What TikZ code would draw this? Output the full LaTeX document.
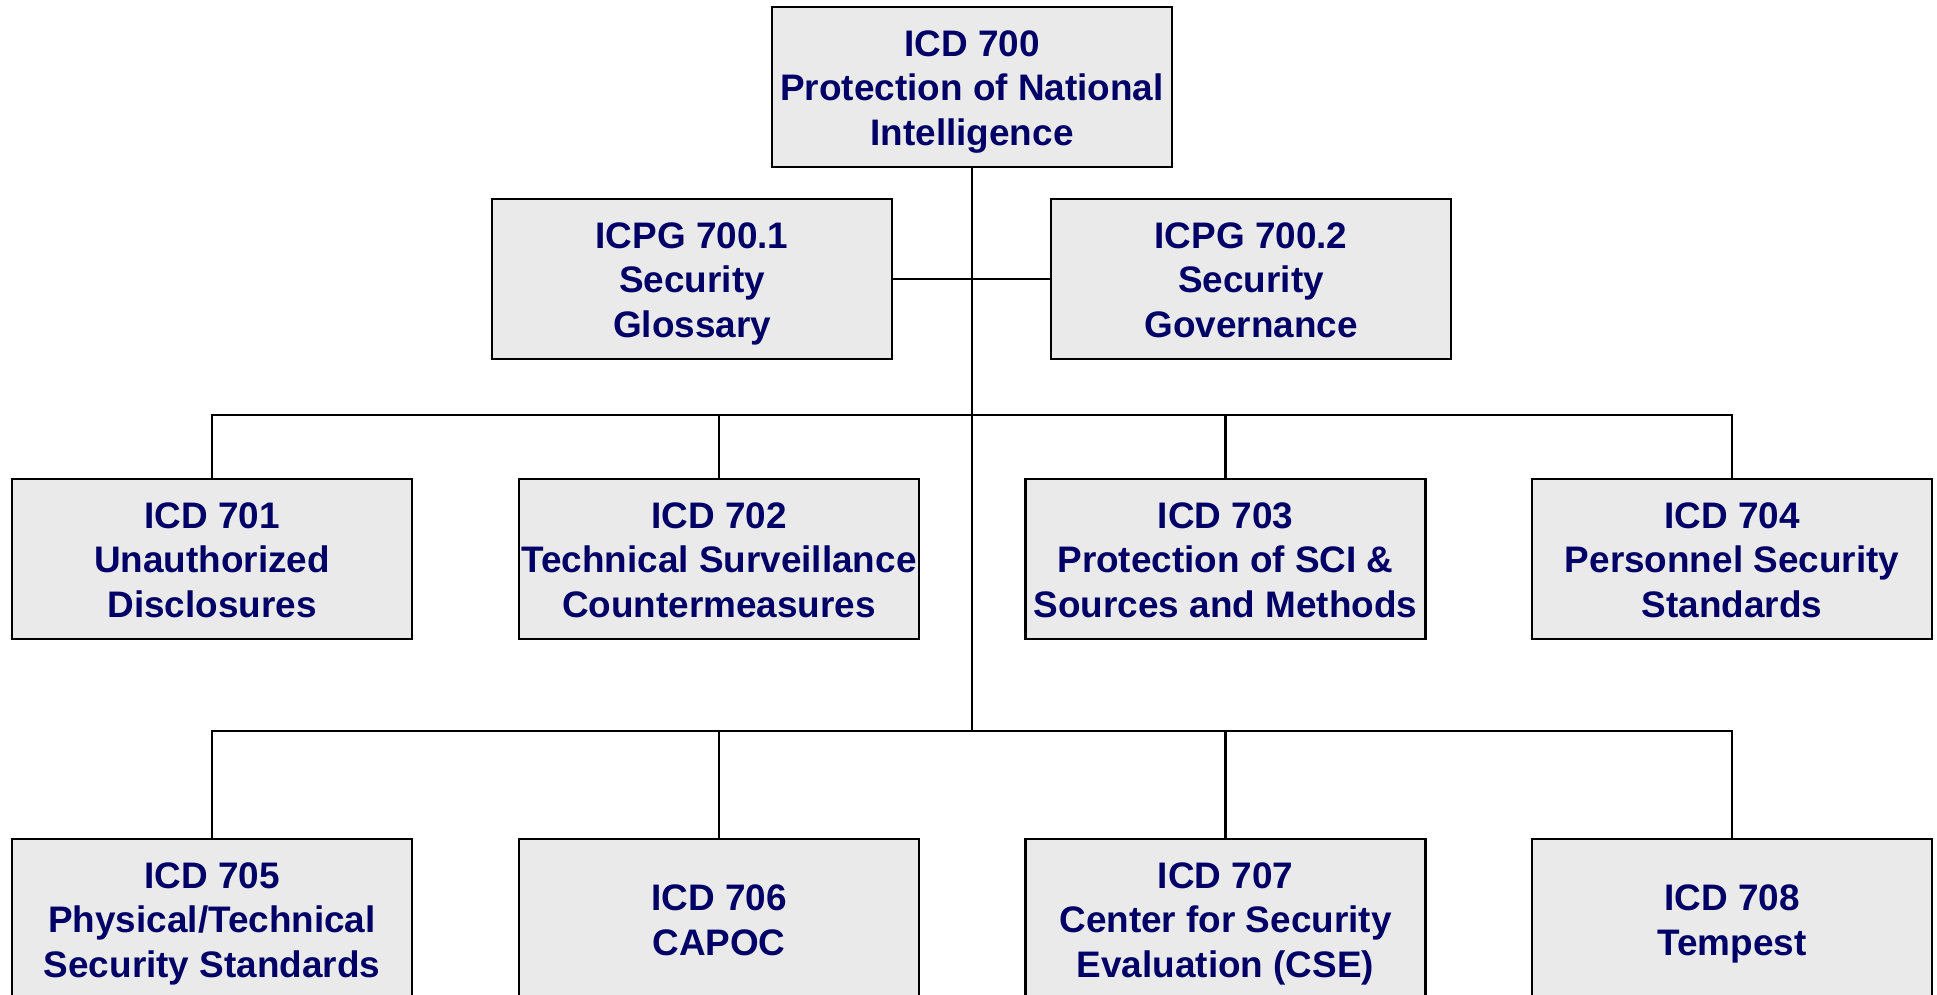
\documentclass[tikz,border=0pt]{standalone}
\usepackage{fontspec}
\setmainfont{Liberation Sans}
\definecolor{navytext}{RGB}{0,0,102}
\definecolor{boxfill}{RGB}{234,234,234}
\newcommand{\doclines}[1]{\raisebox{-5pt}[\height][\depth]{\begin{tabular}{@{}c@{}}#1\end{tabular}}}
\begin{document}
\begin{tikzpicture}[x=1pt,y=1pt,
  docbox/.style={draw=black, line width=2.6pt, fill=boxfill, rectangle,
    minimum width=400pt, minimum height=160pt, inner sep=0pt,
    text=navytext, font=\bfseries\fontsize{36.9}{44.5}\selectfont},
  link/.style={draw=black, line width=2.2pt}]
\useasboundingbox (0,0) rectangle (1937,-995);
\node[docbox] (top) at (972,-87) {\doclines{ICD 700\\Protection of National\\Intelligence}};
\node[docbox] (g1) at (692,-279) {\doclines{ICPG 700.1\\Security\\Glossary}};
\node[docbox] (g2) at (1251,-279) {\doclines{ICPG 700.2\\Security\\Governance}};
\node[docbox] (n701) at (212,-559) {\doclines{ICD 701\\Unauthorized\\Disclosures}};
\node[docbox] (n702) at (719,-559) {\doclines{ICD 702\\Technical Surveillance\\Countermeasures}};
\node[docbox] (n703) at (1225.5,-559) {\doclines{ICD 703\\Protection of SCI \&\\Sources and Methods}};
\node[docbox] (n704) at (1732,-559) {\doclines{ICD 704\\Personnel Security\\Standards}};
\node[docbox] (n705) at (212,-919) {\doclines{ICD 705\\Physical/Technical\\Security Standards}};
\node[docbox] (n706) at (719,-919) {\doclines{ICD 706\\CAPOC}};
\node[docbox] (n707) at (1225.5,-919) {\doclines{ICD 707\\Center for Security\\Evaluation (CSE)}};
\node[docbox] (n708) at (1732,-919) {\doclines{ICD 708\\Tempest}};
\coordinate (b1) at (972,-415);
\coordinate (b2) at (972,-731);
\draw[link] (top.south) -- (b2);
\draw[link] (g1.east) -- (g2.west);
\draw[link] (n701.north) |- (b1) -| (n704.north);
\draw[link] (n702.north) -- (n702.north |- b1);
\draw[link] (n703.north) -- (n703.north |- b1);
\draw[link] (n705.north) |- (b2) -| (n708.north);
\draw[link] (n706.north) -- (n706.north |- b2);
\draw[link] (n707.north) -- (n707.north |- b2);
\end{tikzpicture}
\end{document}
